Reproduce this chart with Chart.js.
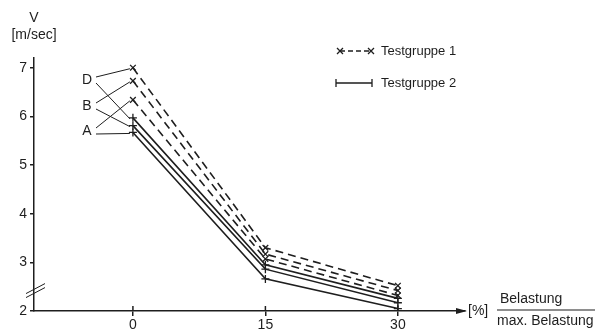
<!DOCTYPE html>
<html>
<head>
<meta charset="utf-8">
<script src="https://cdn.jsdelivr.net/npm/chart.js@4/dist/chart.umd.min.js"></script>
<style>
  html, body { margin: 0; padding: 0; background: #fff; }
  #wrap { width: 596px; height: 329px; position: relative; }
</style>
</head>
<body>
<div id="wrap"><canvas id="chart"></canvas></div>
<script>
// ── DATA ─────────────────────────────────────────
const xValues = [0, 15, 30];               // Belastung / max. Belastung [%]
const yTicks  = [2, 3, 4, 5, 6, 7];

// Testgruppe 1 (dashed, x markers)
const tg1D = [7.00, 3.30, 2.52];
const tg1B = [6.73, 3.17, 2.42];
const tg1A = [6.34, 3.07, 2.32];
// Testgruppe 2 (solid, + markers)
const tg2D = [5.97, 2.95, 2.26];
const tg2B = [5.81, 2.86, 2.17];
const tg2A = [5.67, 2.66, 2.05];

const groupLabels = ['D', 'B', 'A'];
const legendLabels = ['Testgruppe 1', 'Testgruppe 2'];

const INK  = '#1e1e1e';
const FONT = '"Liberation Sans", Arial, sans-serif';

function series(vals, dashed) {
  return {
    data: xValues.map((x, i) => ({ x, y: vals[i] })),
    borderColor: INK,
    borderWidth: 1.6,
    borderDash: dashed ? [8, 5] : [],
    pointStyle: dashed ? 'crossRot' : 'cross',
    pointRadius: 4,
    pointBorderColor: INK,
    pointBorderWidth: 1.3,
    tension: 0,
    fill: false
  };
}

// ── DECORATION PLUGIN (axis arrow, labels, legend) ──
const decor = {
  id: 'decor',
  afterDraw(chart) {
    const ctx = chart.ctx;
    const xs = chart.scales.x, ys = chart.scales.y;
    const ca = chart.chartArea;
    ctx.save();
    ctx.strokeStyle = INK;
    ctx.fillStyle = INK;
    ctx.lineWidth = 1.5;

    // x axis arrow head
    const ax = ca.right, ay = ys.getPixelForValue(2);
    ctx.beginPath();
    ctx.moveTo(ax + 2, ay);
    ctx.lineTo(ax - 9, ay - 3);
    ctx.lineTo(ax - 9, ay + 3);
    ctx.closePath();
    ctx.fill();

    // upward parts of x tick marks
    xValues.forEach(v => {
      const px = xs.getPixelForValue(v);
      ctx.beginPath();
      ctx.moveTo(px, ay);
      ctx.lineTo(px, ay - 5);
      ctx.stroke();
    });

    // axis break
    ctx.lineWidth = 1;
    const bx = ys.left + ys.width, by = ys.getPixelForValue(2.42);
    [-2, 2].forEach(o => {
      ctx.beginPath();
      ctx.moveTo(bx - 8, by + 5 + o);
      ctx.lineTo(bx + 11, by - 5 + o);
      ctx.stroke();
    });

    // texts
    ctx.font = '14px ' + FONT;
    ctx.textBaseline = 'middle';
    ctx.textAlign = 'center';
    ctx.fillText('V', 34, 18);
    ctx.fillText('[m/sec]', 34, 35);

    ctx.textAlign = 'left';
    ctx.fillText('[%]', ax + 3, ay);
    ctx.fillText('Belastung', 500, 299);
    ctx.fillText('max. Belastung', 497, 321);
    ctx.lineWidth = 1.2;
    ctx.beginPath();
    ctx.moveTo(497, 310);
    ctx.lineTo(595, 310);
    ctx.stroke();

    // group labels with leader lines to the points at x = 0
    const p0 = xs.getPixelForValue(0);
    const tg1 = [tg1D, tg1B, tg1A];
    const tg2 = [tg2D, tg2B, tg2A];
    const labelY = [80, 106, 131];
    ctx.lineWidth = 1;
    groupLabels.forEach((g, i) => {
      ctx.textAlign = 'center';
      ctx.font = '14px ' + FONT;
      ctx.fillText(g, 87, labelY[i]);
      ctx.beginPath();
      ctx.moveTo(96, labelY[i] - 3);
      ctx.lineTo(p0 - 3, ys.getPixelForValue(tg1[i][0]) + 1);
      ctx.moveTo(96, labelY[i] + 3);
      ctx.lineTo(p0 - 3, ys.getPixelForValue(tg2[i][0]) + 1);
      ctx.stroke();
    });

    // legend
    ctx.font = '13px ' + FONT;
    ctx.textAlign = 'left';
    ctx.lineWidth = 1.3;
    // Testgruppe 1
    ctx.setLineDash([5, 3]);
    ctx.beginPath();
    ctx.moveTo(340, 51); ctx.lineTo(371, 51);
    ctx.stroke();
    ctx.setLineDash([]);
    [340, 371].forEach(px => {
      ctx.beginPath();
      ctx.moveTo(px - 3, 48); ctx.lineTo(px + 3, 54);
      ctx.moveTo(px + 3, 48); ctx.lineTo(px - 3, 54);
      ctx.stroke();
    });
    ctx.fillText(legendLabels[0], 381, 51);
    // Testgruppe 2
    ctx.beginPath();
    ctx.moveTo(336, 83); ctx.lineTo(372, 83);
    ctx.moveTo(336, 79); ctx.lineTo(336, 87);
    ctx.moveTo(372, 79); ctx.lineTo(372, 87);
    ctx.stroke();
    ctx.fillText(legendLabels[1], 381, 83);

    ctx.restore();
  }
};

new Chart(document.getElementById('chart'), {
  type: 'line',
  data: {
    datasets: [
      series(tg1D, true), series(tg1B, true), series(tg1A, true),
      series(tg2D, false), series(tg2B, false), series(tg2A, false)
    ]
  },
  options: {
    responsive: true,
    maintainAspectRatio: false,
    animation: false,
    layout: { padding: { top: 58, right: 131, left: 0, bottom: 0 } },
    plugins: { legend: { display: false }, tooltip: { enabled: false } },
    scales: {
      x: {
        type: 'linear',
        min: -11.2,
        max: 37.6,
        afterFit(scale) { scale.height = 18; },
        afterBuildTicks(scale) { scale.ticks = xValues.map(v => ({ value: v })); },
        ticks: { color: INK, font: { family: FONT, size: 14 }, padding: 1, maxRotation: 0 },
        grid: { drawOnChartArea: false, drawTicks: true, tickLength: 5, color: INK, lineWidth: 1.5 },
        border: { display: true, color: INK, width: 1.5 }
      },
      y: {
        type: 'linear',
        min: 2,
        max: 7.2,
        afterFit(scale) { scale.width = 34; },
        afterBuildTicks(scale) { scale.ticks = yTicks.map(v => ({ value: v })); },
        ticks: { color: INK, font: { family: FONT, size: 14 }, padding: 3 },
        grid: { drawOnChartArea: false, drawTicks: true, tickLength: 4, color: INK, lineWidth: 1.5 },
        border: { display: true, color: INK, width: 1.5 }
      }
    }
  },
  plugins: [decor]
});
</script>
</body>
</html>
